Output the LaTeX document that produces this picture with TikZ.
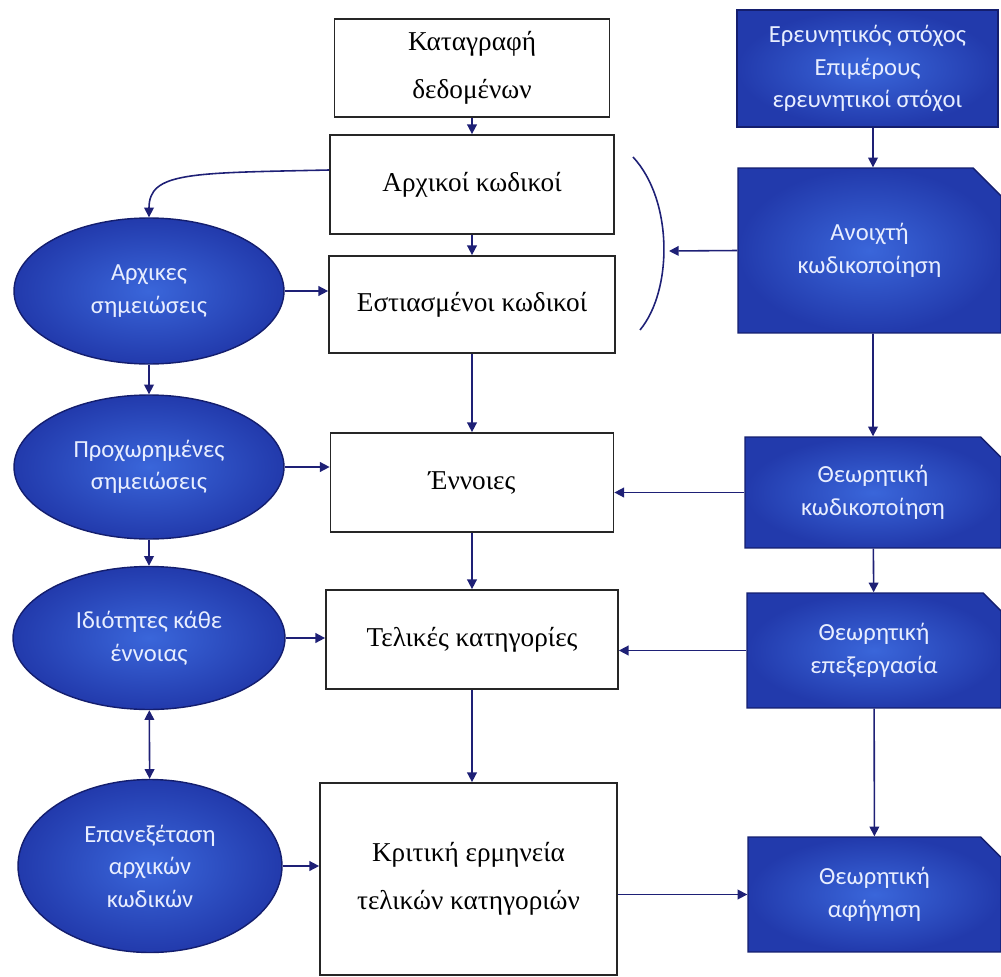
\documentclass[tikz,border=0pt]{standalone}
\usepackage{fontspec}
\setmainfont{Liberation Serif}
\newfontfamily\notefont{Carlito}
\usetikzlibrary{arrows.meta,shapes.geometric,shapes.misc}
\definecolor{arrowblue}{RGB}{30,32,118}
\definecolor{fillblue}{RGB}{58,102,218}
\definecolor{edgeblue}{RGB}{34,58,172}
\definecolor{lineblue}{RGB}{20,30,110}
\definecolor{notetext}{RGB}{232,238,255}

\begin{document}
\begin{tikzpicture}[x=0.02cm,y=-0.02cm,
		stage/.style={draw=black!85,line width=1pt,fill=white,align=center,inner sep=0pt,font=\fontsize{15.5}{27}\selectfont},
		coding/.style={draw=lineblue,line width=0.8pt,inner color=fillblue,outer color=edgeblue,text=notetext,align=center,inner sep=0pt,font=\notefont\fontsize{14}{18.5}\selectfont},
		snip/.style={coding,chamfered rectangle,chamfered rectangle corners=north east,chamfered rectangle angle=45,chamfered rectangle xsep=#1},
		memo/.style={coding,ellipse},
		arr/.style={draw=arrowblue,line width=0.9pt,-{Triangle[width=5.5pt,length=5.5pt]}},
		twoway/.style={arr,{Triangle[width=5.5pt,length=5.5pt]}-{Triangle[width=5.5pt,length=5.5pt]}}]
		\useasboundingbox (0,0) rectangle (1001,977);
		
		\node[stage,minimum width=5.5cm,minimum height=1.96cm] (data) at (472,68) {Καταγραφή\\δεδομένων};
		\node[stage,minimum width=5.68cm,minimum height=1.98cm] (initial) at (472,184.5) {Αρχικοί κωδικοί};
		\node[stage,minimum width=5.72cm,minimum height=1.94cm] (focused) at (472,304.5) {Εστιασμένοι κωδικοί};
		\node[stage,minimum width=5.66cm,minimum height=1.98cm] (concepts) at (472,482.5) {Έννοιες};
		\node[stage,minimum width=5.84cm,minimum height=1.98cm] (categories) at (472,639.5) {Τελικές κατηγορίες};
		\node[stage,minimum width=5.94cm,minimum height=3.84cm] (critique) at (468.5,879) {Κριτική ερμηνεία\\τελικών κατηγοριών};
		
		\node[coding,minimum width=5.22cm,minimum height=2.34cm] (aim) at (867.5,68.5) {Ερευνητικός στόχος\\Επιμέρους\\ερευνητικοί στόχοι};
		\node[snip=0.45cm,minimum width=5.26cm,minimum height=3.3cm] (open) at (869.5,250.5) {Ανοιχτή\\κωδικοποίηση};
		\node[snip=0.3cm,minimum width=5.12cm,minimum height=2.22cm] (theory) at (873,492.5) {Θεωρητική\\κωδικοποίηση};
		\node[snip=0.25cm,minimum width=5.08cm,minimum height=2.3cm] (elab) at (874,650.5) {Θεωρητική\\επεξεργασία};
		\node[snip=0.3cm,minimum width=5.06cm,minimum height=2.3cm] (story) at (874.5,894.5) {Θεωρητική\\αφήγηση};
		
		\node[memo,minimum width=5.4cm,minimum height=2.92cm] (notes) at (149,291) {Αρχικες\\σημειώσεις};
		\node[memo,minimum width=5.4cm,minimum height=2.88cm] (advnotes) at (149,467) {Προχωρημένες\\σημειώσεις};
		\node[memo,minimum width=5.44cm,minimum height=2.86cm] (props) at (149,638) {Ιδιότητες κάθε\\έννοιας};
		\node[memo,minimum width=5.28cm,minimum height=3.46cm] (review) at (150,866) {Επανεξέταση\\αρχικών\\κωδικών};
		
		\draw[arr] (data) -- (initial);
		\draw[arr] (initial) -- (focused);
		\draw[arr] (focused) -- (concepts);
		\draw[arr] (concepts) -- (categories);
		\draw[arr] (categories) -- (categories |- critique.north);
		
		\draw[arr] (aim.south -| theory) -- (open.north -| theory);
		\draw[arr] (open.south -| theory) -- (theory);
		\draw[arr] (theory) -- (elab);
		\draw[arr] (elab) -- (story);
		
		\coordinate (brace) at (669,251);
		\draw[arrowblue,line width=0.9pt] (633,157) .. controls (673,200) and (673,290) .. (640,330);
		\draw[arr] (open.west) -- (brace);
		\draw[arr] (theory.west) -- (theory.west -| concepts.east);
		\draw[arr] (elab.west) -- (elab.west -| categories.east);
		\draw[arr] (critique.east |- story.west) -- (story.west);
		
		\draw[arr] ([yshift=0.29cm]initial.west) .. controls (190,173) and (149,172) .. (notes.north);
		\draw[arr] (notes) -- (advnotes);
		\draw[arr] (advnotes) -- (props);
		\draw[twoway] (props) -- (review);
		\draw[arr] (notes.east) -- (notes.east -| focused.west);
		\draw[arr] (advnotes.east) -- (advnotes.east -| concepts.west);
		\draw[arr] (props.east) -- (props.east -| categories.west);
		\draw[arr] (review.east) -- (review.east -| critique.west);
	\end{tikzpicture}
\end{document}
